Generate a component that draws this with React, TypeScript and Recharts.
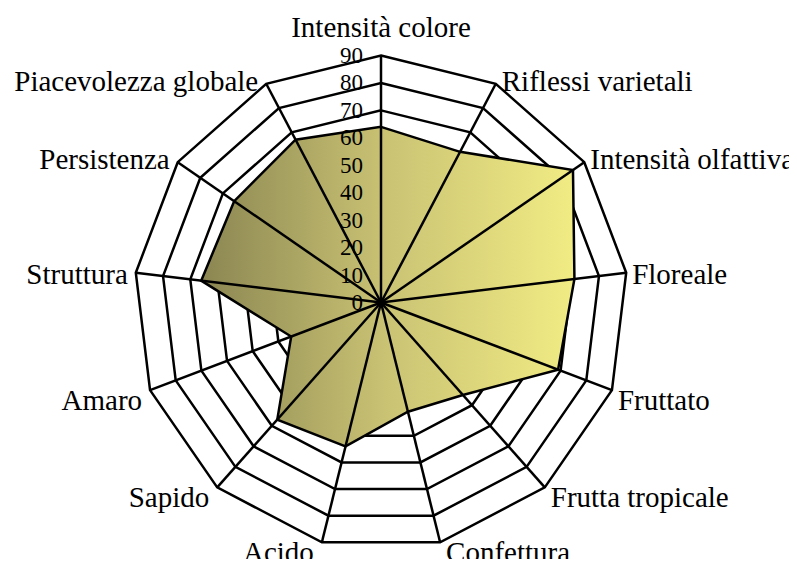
import React from 'react';
import { RadarChart, Radar, PolarGrid, PolarAngleAxis, PolarRadiusAxis } from 'recharts';

const categories = [
  'Intensità colore',
  'Riflessi varietali',
  'Intensità olfattiva',
  'Floreale',
  'Fruttato',
  'Frutta tropicale',
  'Confettura',
  'Acido',
  'Sapido',
  'Amaro',
  'Struttura',
  'Persistenza',
  'Piacevolezza globale',
];
const scores = [64, 62, 85, 71, 69, 45, 41, 54, 57, 35, 66, 65, 67];
const radiusDomain = [0, 90];

const data = categories.map((name, i) => ({ name, value: scores[i] }));

const W = 797;
const H = 567;
const CX = 381;
const CY = 302.5;
const R = 247;
const RAD = Math.PI / 180;
const FONT = '"Liberation Serif", "Times New Roman", serif';

// labels sit just outside the outer ring, like the spreadsheet export
function AngleTick(props: any) {
  const { payload } = props;
  const cos = Math.cos(payload.coordinate * RAD);
  const sin = Math.sin(payload.coordinate * RAD);
  const vx = CX + cos * R;
  const vy = CY - sin * R;
  let anchor = 'middle';
  let tx = vx;
  let ty = vy;
  if (Math.abs(cos) < 0.1) {
    ty = vy + (sin > 0 ? -29 : 29);
  } else {
    anchor = cos > 0 ? 'start' : 'end';
    tx = vx + (cos > 0 ? 6 : -8);
    ty = vy + (sin < -0.2 ? 10 : sin < 0.3 ? 1 : -3);
  }
  return (
    <text x={tx} y={ty} textAnchor={anchor} dominantBaseline="central" fontFamily={FONT} fontSize={29} fill="#000">
      {payload.value}
    </text>
  );
}

function RadiusTick(props: any) {
  const { x, y, payload } = props;
  return (
    <text x={x - 18} y={y} textAnchor="end" dominantBaseline="central" fontFamily={FONT} fontSize={23} fill="#000">
      {payload.value}
    </text>
  );
}

export default function App() {
  return (
    <div style={{ margin: -8, width: W, height: H }}>
      <RadarChart
        width={W}
        height={H}
        data={data}
        cx={CX}
        cy={CY}
        outerRadius={R}
        margin={{ top: 0, right: 0, bottom: 0, left: 0 }}
      >
        <defs>
          <linearGradient id="tasteFill" x1="0" y1="0" x2="1" y2="0">
            <stop offset="0%" stopColor="#8b8652" />
            <stop offset="50%" stopColor="#cac374" />
            <stop offset="100%" stopColor="#f2ec84" />
          </linearGradient>
        </defs>
        <PolarGrid gridType="polygon" radialLines={false} stroke="#000" strokeWidth={2.5} />
        <Radar
          dataKey="value"
          stroke="#000"
          strokeWidth={2.5}
          fill="url(#tasteFill)"
          fillOpacity={1}
          isAnimationActive={false}
        />
        {/* spokes over the fill: inner tick lines running from the rim to the centre */}
        <PolarAngleAxis
          dataKey="name"
          orientation="inner"
          tickSize={R}
          tick={AngleTick}
          tickLine={{ stroke: '#000', strokeWidth: 2.5 }}
          axisLine={false}
        />
        <PolarRadiusAxis
          angle={90}
          type="number"
          domain={radiusDomain}
          tickCount={10}
          tick={RadiusTick}
          axisLine={false}
          tickLine={false}
        />
      </RadarChart>
    </div>
  );
}
